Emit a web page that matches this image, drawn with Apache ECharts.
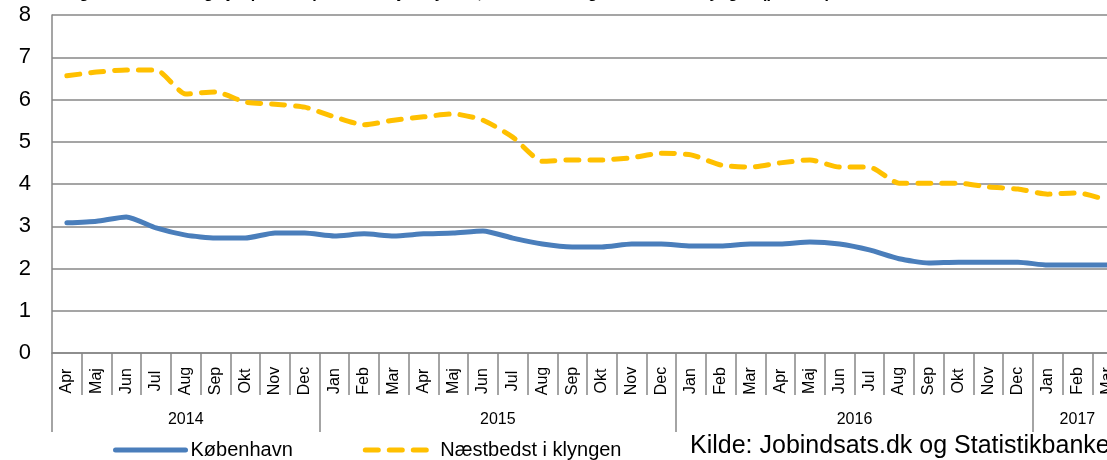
<!DOCTYPE html>
<html>
<head>
<meta charset="utf-8">
<script src="https://cdn.jsdelivr.net/npm/echarts@6/dist/echarts.min.js"></script>
<style>
  html, body { margin: 0; padding: 0; background: #fff; }
  #chart { width: 1107px; height: 460px; }
</style>
</head>
<body>
<div id="chart"></div>
<script>
// måneder apr 2014 - mar 2017
var months = ['Apr','Maj','Jun','Jul','Aug','Sep','Okt','Nov','Dec',
  'Jan','Feb','Mar','Apr','Maj','Jun','Jul','Aug','Sep','Okt','Nov','Dec',
  'Jan','Feb','Mar','Apr','Maj','Jun','Jul','Aug','Sep','Okt','Nov','Dec',
  'Jan','Feb','Mar'];
var years = ['2014', '2015', '2016', '2017'];
var yearStart = [0, 9, 21, 33];   // index of first month in each year
var yearCenter = [4.5, 15, 27, 34.5];

var kbh = [3.08, 3.12, 3.22, 2.96, 2.79, 2.72, 2.72, 2.84, 2.84,
  2.77, 2.82, 2.77, 2.82, 2.84, 2.89, 2.72, 2.58, 2.51, 2.51, 2.58, 2.58,
  2.53, 2.53, 2.58, 2.58, 2.63, 2.58, 2.44, 2.23, 2.13, 2.15, 2.15, 2.15,
  2.08, 2.08, 2.08];
var naestbedst = [6.56, 6.65, 6.70, 6.70, 6.13, 6.18, 5.94, 5.89, 5.82,
  5.59, 5.40, 5.51, 5.59, 5.66, 5.51, 5.11, 4.54, 4.57, 4.57, 4.62, 4.73,
  4.69, 4.45, 4.40, 4.50, 4.57, 4.40, 4.40, 4.02, 4.02, 4.02, 3.93, 3.88,
  3.76, 3.79, 3.62];
var yTicks = [0, 8, 1]; // min, max, interval

var gray = '#878787';
var font = '"Liberation Sans", Arial, sans-serif';

var myChart = echarts.init(document.getElementById('chart'));
var option = {
  animation: false,
  textStyle: { fontFamily: font },
  title: {
    text: 'Figur 1. Andel ledige jobparate i pct. af arbejdsstyrken, København og næstbedst i klyngen (procent)',
    left: 60,
    top: -19,
    textStyle: { fontSize: 16, fontWeight: 'bold', color: '#000', fontFamily: font }
  },
  grid: { left: 52, top: 15, width: 1070, height: 338, outerBoundsMode: 'none', containLabel: false },
  legend: {
    left: 108,
    top: 435,
    itemWidth: 70,
    itemHeight: 16,
    itemGap: 70,
    itemStyle: { opacity: 0 },
    lineStyle: { width: 5 },
    textStyle: { fontSize: 20, color: '#000', fontFamily: font },
    data: ['København', 'Næstbedst i klyngen']
  },
  graphic: [{
    type: 'text',
    left: 690,
    top: 434,
    style: { text: 'Kilde: Jobindsats.dk og Statistikbanken', fill: '#000', font: '25px ' + font }
  }],
  xAxis: [{
    type: 'category',
    data: months,
    boundaryGap: true,
    axisLine: { lineStyle: { color: gray, width: 1.5 } },
    axisTick: { show: true, interval: 0, length: 42, lineStyle: { color: gray, width: 1.5 } },
    axisLabel: {
      interval: 0, rotate: 90, align: 'center', verticalAlign: 'middle',
      margin: 28, fontSize: 16, color: '#000', fontFamily: font
    }
  }, {
    type: 'category',
    data: months,
    boundaryGap: true,
    position: 'bottom',
    offset: 42,
    axisLine: { show: false },
    axisLabel: { show: false },
    axisTick: {
      show: true, length: 37,
      interval: function (index) { return yearStart.indexOf(index) >= 0; },
      lineStyle: { color: gray, width: 1.5 }
    }
  }, {
    type: 'value',
    min: 0, max: months.length, interval: 0.5,
    position: 'bottom',
    axisLine: { show: false },
    axisTick: { show: false },
    splitLine: { show: false },
    axisLabel: {
      margin: 59, fontSize: 16, color: '#000', fontFamily: font,
      showMinLabel: true, showMaxLabel: true,
      formatter: function (v) {
        var i = yearCenter.indexOf(v);
        return i >= 0 ? years[i] : '';
      }
    }
  }],
  yAxis: {
    type: 'value',
    min: yTicks[0], max: yTicks[1], interval: yTicks[2],
    axisLine: { show: true, lineStyle: { color: gray, width: 1.5 } },
    axisTick: { show: false },
    splitLine: { lineStyle: { color: gray, width: 1.5 } },
    axisLabel: { fontSize: 22, color: '#000', margin: 21, fontFamily: font }
  },
  series: [{
    name: 'København',
    type: 'line',
    data: kbh,
    smooth: 0.2,
    symbol: 'none',
    lineStyle: { color: '#4A7EBB', width: 5, cap: 'round', join: 'round' },
    itemStyle: { color: '#4A7EBB', opacity: 0 }
  }, {
    name: 'Næstbedst i klyngen',
    type: 'line',
    data: naestbedst,
    smooth: 0.2,
    symbol: 'none',
    lineStyle: { color: '#FFC000', width: 5, type: [13, 11], cap: 'round', join: 'round' },
    itemStyle: { color: '#FFC000', opacity: 0 }
  }]
};
myChart.setOption(option);
</script>
</body>
</html>
